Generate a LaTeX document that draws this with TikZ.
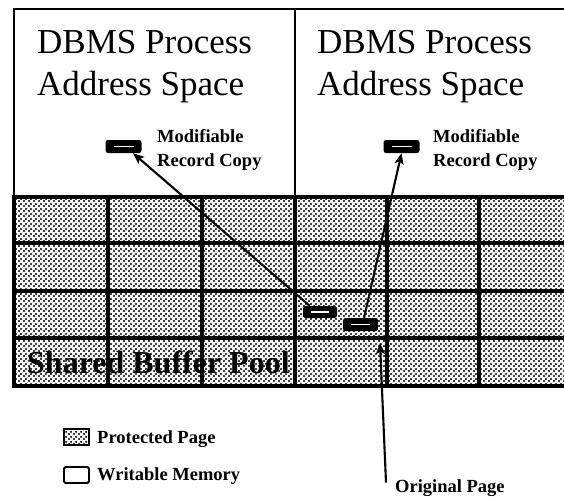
\documentclass[tikz,border=0pt]{standalone}
\usepackage{fontspec}
\setmainfont{Liberation Serif}
\usetikzlibrary{patterns,arrows.meta,calc}

% fine halftone dots for protected pages
\pgfdeclarepatternformonly{halftone}{\pgfpointorigin}{\pgfqpoint{4.5pt}{4.5pt}}{\pgfqpoint{4.5pt}{4.5pt}}{%
  \pgfpathcircle{\pgfqpoint{1.1pt}{1.1pt}}{1.2pt}%
  \pgfpathcircle{\pgfqpoint{3.35pt}{3.35pt}}{1.2pt}%
  \pgfusepath{fill}%
}

\tikzset{
  protected/.style={pattern=halftone, pattern color=black},
  gridline/.style={line width=3.3pt},
  frameline/.style={line width=2pt},
  title/.style={anchor=base west, inner sep=0pt, font=\fontsize{35}{42}\selectfont},
  pool/.style={anchor=base west, inner sep=0pt, font=\fontsize{32}{38}\selectfont\bfseries},
  small/.style={anchor=base west, inner sep=0pt, font=\fontsize{18.5}{22}\selectfont\bfseries},
  record/.style={fill=black, rounded corners=2.5pt, inner sep=0pt,
    minimum width=36pt, minimum height=13pt,
    path picture={\draw[white, line width=1.8pt]
      ($(path picture bounding box.west)+(8,0)$) --
      ($(path picture bounding box.east)+(-8,0)$);}},
  conn/.style={line width=2.1pt, -{Stealth[length=11pt, width=9pt, inset=2.5pt]}},
  legendbox/.style={draw, line width=1.8pt, inner sep=0pt, minimum width=25pt, minimum height=16pt},
}

\begin{document}
\begin{tikzpicture}[x=1pt, y=-1pt]
\useasboundingbox (0,0) rectangle (564,499);

% shared buffer pool: shaded pages
\fill[white] (14,197) rectangle (564,386);
\fill[protected] (14,197) rectangle (564,386);
\foreach \y in {197,243,291,338,386}
  \draw[gridline] (12.4,\y) -- (564,\y);
\foreach \x in {14,108,202,295,387,479}
  \draw[gridline] (\x,197) -- (\x,386);

% process address spaces
\draw[frameline] (14,197) -- (14,9) -- (564,9);
\draw[line width=2.6pt] (295,9) -- (295,197);

\node[title] (t1a) at (37,53) {DBMS Process};
\node[title] (t1b) at (37,95) {Address Space};
\node[title] (t2a) at (317,53) {DBMS Process};
\node[title] (t2b) at (317,95) {Address Space};

\node[small] (m1a) at (157,142) {Modifiable};
\node[small] (m1b) at (157,166) {Record Copy};
\node[small] (m2a) at (433,142) {Modifiable};
\node[small] (m2b) at (433,166) {Record Copy};

\node[pool] (poolname) at (27,373) {Shared Buffer Pool};

% record copies and records in the pool
\node[record] (rec1) at (123.5,146.5) {};
\node[record] (rec2) at (401.5,146.5) {};
\node[record, minimum width=34pt, minimum height=12pt] (pg1) at (320,312) {};
\node[record, minimum width=35pt, minimum height=13pt] (pg2) at (360.5,324.5) {};

\draw[conn] (pg1.149) -- (rec1.-35);
\draw[conn] (pg2.62) -- (rec2.south);

% original page callout
\node[small] (op) at (395,492) {Original Page};
\coordinate (origpage) at (380,343);
\draw[conn] ($(op.west)+(-9,-5)$) -- (origpage);

% legend
\node[legendbox, protected] (lp) at (76.5,437) {};
\node[legendbox, rounded corners=1.5pt] (lw) at (76.5,475) {};
\node[small] (lpt) at (97,443) {Protected Page};
\node[small] (lwt) at (97,480) {Writable Memory};
\end{tikzpicture}
\end{document}
